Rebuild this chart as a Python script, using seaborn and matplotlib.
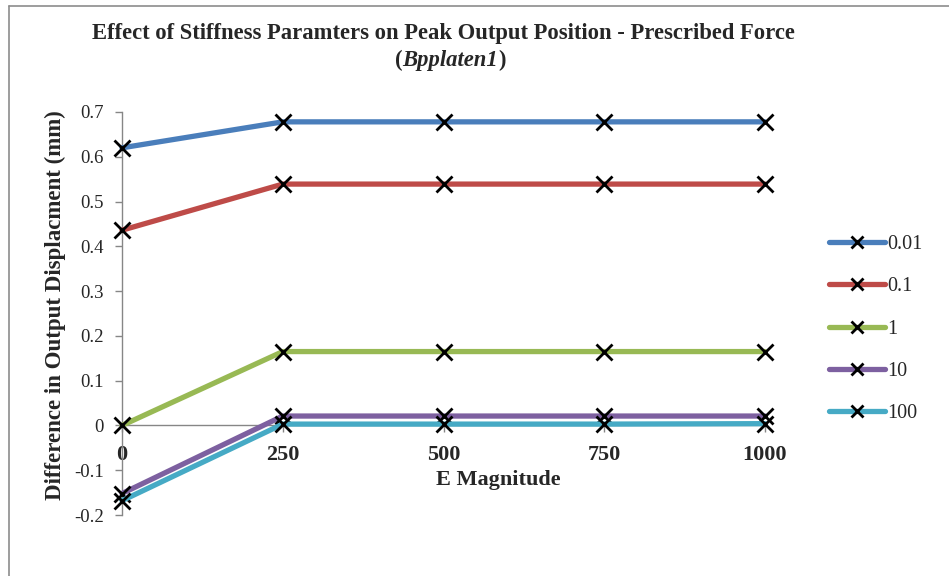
import matplotlib
matplotlib.use("Agg")
import matplotlib.pyplot as plt
import seaborn as sns
import pandas as pd
from matplotlib.lines import Line2D

# ---- data ----
e_magnitude = [0, 250, 500, 750, 1000]
series_labels = ["0.01", "0.1", "1", "10", "100"]
s_001 = [0.62, 0.678, 0.678, 0.678, 0.678]
s_01 = [0.436, 0.539, 0.539, 0.539, 0.539]
s_1 = [0.0, 0.165, 0.165, 0.165, 0.165]
s_10 = [-0.152, 0.021, 0.021, 0.021, 0.021]
s_100 = [-0.168, 0.003, 0.003, 0.003, 0.004]
y_ticks = [-0.2, -0.1, 0, 0.1, 0.2, 0.3, 0.4, 0.5, 0.6, 0.7]
y_tick_labels = ["-0.2", "-0.1", "0", "0.1", "0.2", "0.3", "0.4", "0.5", "0.6", "0.7"]
x_tick_labels = ["0", "250", "500", "750", "1000"]
colors = ["#4A7EBB", "#BE4B48", "#98B954", "#7D60A0", "#46AAC5"]

rows = []
for lab, vals in zip(series_labels, [s_001, s_01, s_1, s_10, s_100]):
    for x, v in zip(e_magnitude, vals):
        rows.append({"E": x, "val": v, "series": lab})
df = pd.DataFrame(rows)

sns.set_theme(style="white")
plt.rcParams["font.family"] = ["Liberation Serif", "DejaVu Serif"]

fig = plt.figure(figsize=(9.49, 5.76), dpi=100)
ax = fig.add_axes([122 / 949, 1 - 515 / 576, (765 - 122) / 949, (515 - 112) / 576])

sns.lineplot(data=df, x="E", y="val", hue="series", hue_order=series_labels,
             palette=colors, linewidth=3.8, marker="x", markersize=11,
             markeredgecolor="black", markeredgewidth=2.0, legend=False,
             ax=ax, zorder=3, clip_on=False)

for s in ["top", "right"]:
    ax.spines[s].set_visible(False)
ax.spines["bottom"].set_position(("data", 0))
ax.spines["left"].set_color("#868686")
ax.spines["bottom"].set_color("#868686")
ax.spines["left"].set_linewidth(1.0)
ax.spines["bottom"].set_linewidth(1.0)
ax.spines["bottom"].set_zorder(1)

ax.set_xlim(0, 1000)
ax.set_ylim(-0.2, 0.7)
ax.set_yticks(y_ticks)
ax.set_yticklabels(y_tick_labels, fontsize=13.5)
ax.set_xticks(e_magnitude)
ax.set_xticklabels(x_tick_labels, fontsize=16, fontweight="bold")
ax.tick_params(axis="y", direction="out", length=5, width=1, color="#868686", pad=8, left=True)
ax.tick_params(axis="x", direction="out", length=5, width=1, color="#868686", pad=9, bottom=True)

ax.set_xlabel("E Magnitude", fontsize=16, fontweight="bold")
ax.xaxis.label.set_va("center")
ax.xaxis.set_label_coords((498 - 122) / 643, (515 - 480) / 403)
ax.set_ylabel("Difference in Output Displacment (mm)", fontsize=16.5, fontweight="bold")
ax.yaxis.label.set_va("center")
ax.yaxis.label.set_ha("center")
ax.yaxis.set_label_coords((55 - 122) / 643, (515 - 305) / 403)

handles = [Line2D([0], [0], color=c, linewidth=3.8, marker="x", markersize=8,
                  markeredgecolor="black", markeredgewidth=2.0,
                  solid_capstyle="round") for c in colors]
ax.legend(handles, series_labels, loc="center left",
          bbox_to_anchor=((829 - 122) / 643, (515 - 329) / 403),
          frameon=False, fontsize=14.5, handlelength=2.8, handletextpad=0.1,
          labelspacing=1.15, borderaxespad=0, borderpad=0)

fig.text(443 / 949, 1 - 33 / 576, "Effect of Stiffness Paramters on Peak Output Position - Prescribed Force",
         ha="center", va="center", fontsize=16.3, fontweight="bold")
mid = fig.text(450 / 949, 1 - 66 / 576, "Bpplaten1", ha="center", va="baseline",
               fontsize=16.3, fontweight="bold", fontstyle="italic")
ax.annotate("(", xy=(0, 0), xycoords=mid, ha="right", va="bottom",
            fontsize=16.3, fontweight="bold", annotation_clip=False)
ax.annotate(")", xy=(1, 0), xycoords=mid, ha="left", va="bottom",
            fontsize=16.3, fontweight="bold", annotation_clip=False)

fig.add_artist(Line2D([9 / 949, 9 / 949], [0, 1 - 6 / 576], color="#8c8c8c", linewidth=1.2,
                      transform=fig.transFigure))
fig.add_artist(Line2D([9 / 949, 1], [1 - 6 / 576, 1 - 6 / 576], color="#8c8c8c", linewidth=1.2,
                      transform=fig.transFigure))

fig.savefig("out.png", dpi=100)
